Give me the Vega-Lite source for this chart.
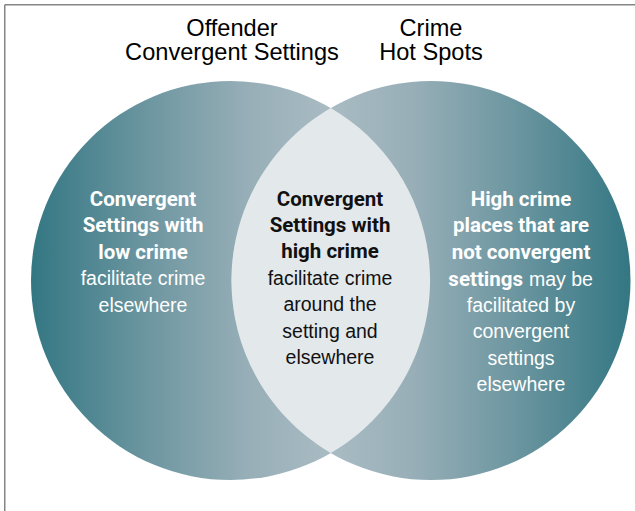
{
  "$schema": "https://vega.github.io/schema/vega-lite/v6.json",
  "width": 635,
  "height": 511,
  "autosize": {"type": "none"},
  "padding": 0,
  "background": "white",
  "config": {"view": {"stroke": null}},
  "datasets": {
    "sets": [
      {"set": "Offender Convergent Settings", "x": 230.5, "y": 280.5},
      {"set": "Crime Hot Spots", "x": 431, "y": 280.5}
    ],
    "overlap": [
      {"set": "Both", "x": 330.75, "y": 280.5}
    ],
    "frame": [
      {"edge": "top", "x": 4.75, "y": 4.75, "x2": 635, "y2": 4.75},
      {"edge": "left", "x": 4.75, "y": 4.75, "x2": 4.75, "y2": 511}
    ],
    "titles": [
      {"text": "Offender", "x": 232, "y": 35.7},
      {"text": "Convergent Settings", "x": 232, "y": 59.5},
      {"text": "Crime", "x": 431, "y": 35.7},
      {"text": "Hot Spots", "x": 431, "y": 59.5}
    ],
    "labels": [
      {"region": "left", "part": "heading", "text": "Convergent\nSettings with\nlow crime", "x": 143, "y": 206},
      {"region": "left", "part": "body", "text": "facilitate crime\nelsewhere", "x": 143, "y": 285.3},
      {"region": "center", "part": "heading", "text": "Convergent\nSettings with\nhigh crime", "x": 330, "y": 205.7},
      {"region": "center", "part": "body", "text": "facilitate crime\naround the\nsetting and\nelsewhere", "x": 330, "y": 285},
      {"region": "right", "part": "heading", "text": "High crime\nplaces that are\nnot convergent", "x": 521, "y": 206},
      {"region": "right", "part": "heading-inline", "text": "settings", "x": 523, "y": 285.5},
      {"region": "right", "part": "body-inline", "text": "may be", "x": 529, "y": 285.5},
      {"region": "right", "part": "body", "text": "facilitated by\nconvergent\nsettings\nelsewhere", "x": 521, "y": 311.9}
    ]
  },
  "encoding": {
    "x": {"field": "x", "type": "quantitative", "scale": {"domain": [0, 635], "nice": false, "zero": false}, "axis": null},
    "y": {"field": "y", "type": "quantitative", "scale": {"domain": [0, 511], "nice": false, "zero": false, "reverse": true}, "axis": null}
  },
  "layer": [
    {
      "data": {"name": "sets"},
      "transform": [{"filter": "datum.set === 'Offender Convergent Settings'"}],
      "mark": {
        "type": "point", "shape": "circle", "size": 159201, "filled": true, "opacity": 1, "strokeWidth": 0,
        "fill": {"gradient": "linear", "x1": 0, "y1": 0, "x2": 1, "y2": 0,
          "stops": [
            {"offset": 0, "color": "#337783"},
            {"offset": 0.3, "color": "#6e97a1"},
            {"offset": 0.55, "color": "#98afb8"},
            {"offset": 0.75, "color": "#a9bbc3"},
            {"offset": 1, "color": "#b8c8ce"}
          ]}
      }
    },
    {
      "data": {"name": "sets"},
      "transform": [{"filter": "datum.set === 'Crime Hot Spots'"}],
      "mark": {
        "type": "point", "shape": "circle", "size": 159201, "filled": true, "opacity": 1, "strokeWidth": 0,
        "fill": {"gradient": "linear", "x1": 1, "y1": 0, "x2": 0, "y2": 0,
          "stops": [
            {"offset": 0, "color": "#337783"},
            {"offset": 0.3, "color": "#6e97a1"},
            {"offset": 0.55, "color": "#98afb8"},
            {"offset": 0.75, "color": "#a9bbc3"},
            {"offset": 1, "color": "#b8c8ce"}
          ]}
      }
    },
    {
      "data": {"name": "overlap"},
      "mark": {
        "type": "point", "shape": "M 0 -0.8647 A 1 1 0 0 1 0 0.8647 A 1 1 0 0 1 0 -0.8647 Z",
        "size": 159201, "filled": true, "opacity": 1, "strokeWidth": 0, "fill": "#e3e8eb"
      }
    },
    {
      "data": {"name": "frame"},
      "mark": {"type": "rule", "color": "#858585", "strokeWidth": 1.5},
      "encoding": {
        "x2": {"field": "x2"},
        "y2": {"field": "y2"}
      }
    },
    {
      "data": {"name": "titles"},
      "mark": {"type": "text", "font": "Liberation Sans, Arial, sans-serif", "fontSize": 23.6, "align": "center", "baseline": "alphabetic", "color": "#000000"},
      "encoding": {"text": {"field": "text"}}
    },
    {
      "data": {"name": "labels"},
      "transform": [{"filter": "datum.part === 'heading'"}],
      "mark": {"type": "text", "font": "Roboto, sans-serif", "fontSize": 20.5, "fontWeight": "bold", "lineHeight": 26.4, "lineBreak": "\n", "align": "center", "baseline": "alphabetic"},
      "encoding": {
        "text": {"field": "text"},
        "color": {"field": "region", "type": "nominal", "scale": {"domain": ["left", "center", "right"], "range": ["#ffffff", "#111111", "#ffffff"]}, "legend": null}
      }
    },
    {
      "data": {"name": "labels"},
      "transform": [{"filter": "datum.part === 'body'"}],
      "mark": {"type": "text", "font": "Liberation Sans, Arial, sans-serif", "fontSize": 19.5, "fontWeight": "normal", "lineHeight": 26.4, "lineBreak": "\n", "align": "center", "baseline": "alphabetic"},
      "encoding": {
        "text": {"field": "text"},
        "color": {"field": "region", "type": "nominal", "scale": {"domain": ["left", "center", "right"], "range": ["#ffffff", "#1a1a1a", "#ffffff"]}, "legend": null}
      }
    },
    {
      "data": {"name": "labels"},
      "transform": [{"filter": "datum.part === 'heading-inline'"}],
      "mark": {"type": "text", "font": "Roboto, sans-serif", "fontSize": 20.5, "fontWeight": "bold", "align": "right", "baseline": "alphabetic"},
      "encoding": {
        "text": {"field": "text"},
        "color": {"field": "region", "type": "nominal", "scale": {"domain": ["left", "center", "right"], "range": ["#ffffff", "#111111", "#ffffff"]}, "legend": null}
      }
    },
    {
      "data": {"name": "labels"},
      "transform": [{"filter": "datum.part === 'body-inline'"}],
      "mark": {"type": "text", "font": "Liberation Sans, Arial, sans-serif", "fontSize": 19.5, "fontWeight": "normal", "align": "left", "baseline": "alphabetic"},
      "encoding": {
        "text": {"field": "text"},
        "color": {"field": "region", "type": "nominal", "scale": {"domain": ["left", "center", "right"], "range": ["#ffffff", "#1a1a1a", "#ffffff"]}, "legend": null}
      }
    }
  ]
}
